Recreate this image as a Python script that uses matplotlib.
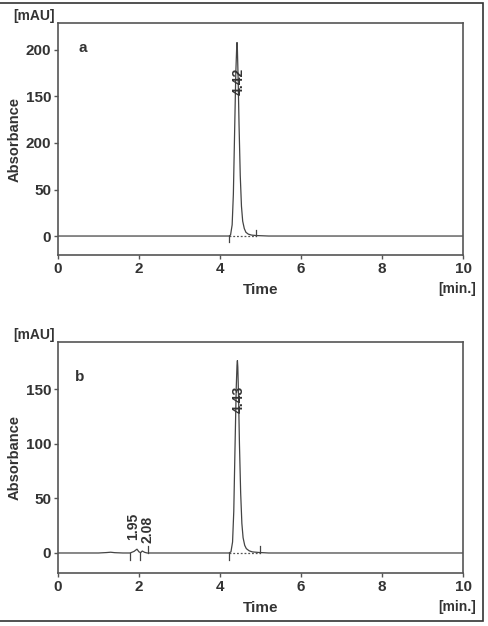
import matplotlib
matplotlib.use("Agg")
import matplotlib.pyplot as plt
from matplotlib.patches import Rectangle

plt.rcParams.update({"font.family": ["Liberation Sans", "DejaVu Sans"], "font.size": 10})
INK = "#333333"; AX = "#555555"

# chromatogram a
ta = [0, 1.0, 2.0, 3.0, 4.0, 4.22, 4.26, 4.30, 4.33, 4.36, 4.39, 4.41, 4.42, 4.43, 4.45, 4.47, 4.50, 4.53,
      4.56, 4.60, 4.64, 4.70, 4.78, 4.90, 5.2, 6.0, 7.0, 8.0, 9.0, 10.0]
ya = [0, 0, 0, 0, 0, 0, 1, 12, 45, 110, 175, 200, 208, 200, 165, 120, 65, 32,
      16, 8, 4, 2, 1, 0.5, 0, 0, 0, 0, 0, 0]
# chromatogram b
tb = [0, 1.0, 1.2, 1.3, 1.4, 1.6, 1.78, 1.88, 1.95, 2.0, 2.04, 2.08, 2.14, 2.2, 2.5, 3.0, 4.0, 4.22, 4.27,
      4.31, 4.34, 4.37, 4.40, 4.42, 4.43, 4.44, 4.46, 4.48, 4.51, 4.54, 4.57, 4.61, 4.65, 4.72, 4.80,
      4.95, 5.2, 6.0, 7.0, 8.0, 9.0, 10.0]
yb = [0, 0, 0.4, 0.7, 0.3, 0, 0, 1.5, 3.5, 1.0, 0.3, 1.8, 0.6, 0, 0, 0, 0, 0, 1,
      10, 38, 95, 150, 172, 176, 170, 140, 100, 55, 27, 14, 7, 4, 2, 1,
      0.5, 0, 0, 0, 0, 0, 0]

ylims = [(-20.4, 229), (-18.3, 193)]
yticks = [[0, 50, 100, 150, 200], [0, 50, 100, 150]]
ytlabels = [["0", "50", "200", "150", "200"], ["0", "50", "100", "150"]]
letters = ["a", "b"]
letter_pos = [(0.62, 202), (0.54, 161)]
peak_labels = [[("4.42", 4.47, 152)], [("1.95", 1.85, 12), ("2.08", 2.22, 9), ("4.43", 4.47, 128)]]
# integration markers: (time, direction) and dotted baselines
markers = [[(4.22, -1), (4.88, 1)], [(1.78, -1), (2.03, -1), (2.22, 1), (4.22, -1), (4.99, 1)]]
dotted = [(4.22, 4.88), (4.22, 4.99)]

fig = plt.figure(figsize=(4.88, 6.26), dpi=100)
fig.patches.append(Rectangle((-0.05, 1 - 621 / 626), 1 - 5 / 488 + 0.05, 618 / 626, transform=fig.transFigure,
                             fill=False, ec="#333333", lw=1.2))
boxes = [(23, 255), (342, 573)]
for i, (t, y) in enumerate([(ta, ya), (tb, yb)]):
    top, bot = boxes[i]
    ax = fig.add_axes([58 / 488, 1 - bot / 626, 405 / 488, (bot - top) / 626])
    ax.plot(t, y, color="#444444", lw=0.9)
    ax.plot(dotted[i], [0, 0], color="#555555", lw=0.9, ls=(0, (1.5, 1.5)))
    for tm, d in markers[i]:
        ax.plot([tm, tm], [0, d * 6], color="#444444", lw=0.9)
    ax.set_xlim(0, 10); ax.set_ylim(*ylims[i])
    ax.set_xticks(range(0, 11, 2))
    ax.set_xticklabels([str(v) for v in range(0, 11, 2)], fontweight="bold", color=INK)
    ax.set_yticks(yticks[i]); ax.set_yticklabels(ytlabels[i], fontweight="bold", color=INK)
    ax.tick_params(direction="out", length=3, width=1, color=AX, pad=2, labelsize=11)
    for s in ax.spines.values():
        s.set_color(AX); s.set_linewidth(1.2)
    ax.set_ylabel("Absorbance", fontweight="bold", color=INK, labelpad=3, fontsize=10.5)
    ax.set_xlabel("Time", fontweight="bold", color=INK, labelpad=5, fontsize=11)
    ax.text(*letter_pos[i], letters[i], fontweight="bold", color=INK, ha="center", va="center", fontsize=11)
    for lab, x, yy in peak_labels[i]:
        ax.text(x, yy, lab, rotation=90, ha="center", va="bottom", fontsize=10, fontweight="bold", color=INK)
    fig.text(34 / 488, 1 - (top - 7) / 626, "[mAU]", fontweight="bold", color=INK, ha="center", va="center")
    fig.text(476 / 488, 1 - (bot + 34) / 626, "[min.]", fontweight="bold", color=INK, ha="right", va="center")

fig.savefig("out.png", dpi=100)
